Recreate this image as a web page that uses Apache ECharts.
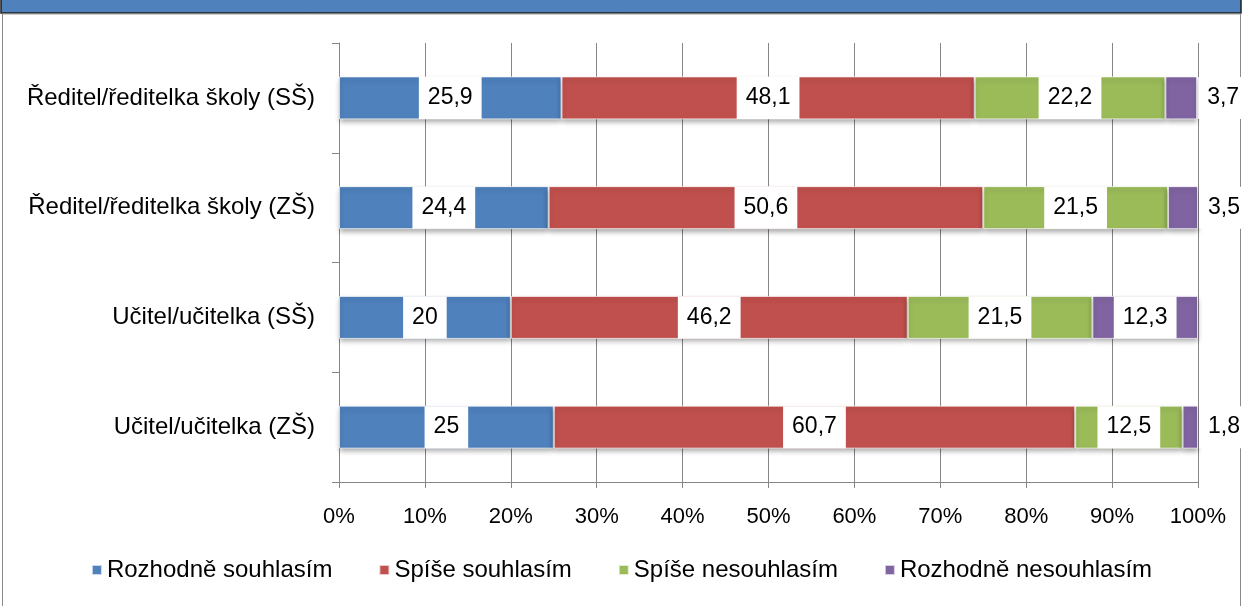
<!DOCTYPE html>
<html>
<head>
<meta charset="utf-8">
<script src="https://cdn.jsdelivr.net/npm/echarts@6/dist/echarts.min.js"></script>
<style>
  html, body { margin: 0; padding: 0; background: #fff; }
  #chart { width: 1243px; height: 606px; }
</style>
</head>
<body>
<div id="chart"></div>
<script>
// categories from bottom to top
let categories = ['Učitel/učitelka (ZŠ)', 'Učitel/učitelka (SŠ)', 'Ředitel/ředitelka školy (ZŠ)', 'Ředitel/ředitelka školy (SŠ)'];
let seriesNames = ['Rozhodně souhlasím', 'Spíše souhlasím', 'Spíše nesouhlasím', 'Rozhodně nesouhlasím'];
let rozhodneSouhlasim = [25, 20, 24.4, 25.9];
let spiseSouhlasim = [60.7, 46.2, 50.6, 48.1];
let spiseNesouhlasim = [12.5, 21.5, 21.5, 22.2];
let rozhodneNesouhlasim = [1.8, 12.3, 3.5, 3.7];
let xTicks = ['0%', '10%', '20%', '30%', '40%', '50%', '60%', '70%', '80%', '90%', '100%'];

let colors = ['#4F81BD', '#C0504D', '#9BBB59', '#8064A2'];
let font = '"Liberation Sans", sans-serif';

window.addEventListener('load', function () {
    let chart = echarts.init(document.getElementById('chart'));

    let label = {
        show: true,
        position: 'inside',
        color: '#000',
        fontSize: 23,
        fontFamily: font,
        backgroundColor: '#fff',
        padding: [10, 9, 9, 9],
        formatter: function (p) { return String(p.value).replace('.', ','); }
    };

    function makeSeries(idx, values) {
        return {
            name: seriesNames[idx],
            type: 'bar',
            stack: 'total',
            barWidth: 43,
            itemStyle: {
                color: colors[idx],
                borderColor: 'rgba(255,255,255,0.7)',
                borderWidth: 1,
                shadowColor: 'rgba(0,0,0,0.35)',
                shadowBlur: 5,
                shadowOffsetY: 3
            },
            label: label,
            data: values.map(function (v) {
                // small segments get their label outside to the right
                if (v < 5) {
                    return { value: v, label: { position: 'right', distance: 1 } };
                }
                return v;
            })
        };
    }

    let option = {
        animation: false,
        color: colors,
        grid: { left: 339, right: 45, top: 43, bottom: 124 },
        legend: {
            bottom: 19,
            left: 'center',
            itemWidth: 10,
            itemHeight: 10,
            itemGap: 46,
            icon: 'rect',
            textStyle: { fontSize: 24, fontFamily: font, color: '#000' },
            data: seriesNames
        },
        graphic: [
            { type: 'rect', shape: { x: 1, y: -2, width: 1240, height: 15 },
              style: { fill: '#4F81BD', stroke: '#1f1f1f', lineWidth: 1.5 } },
            { type: 'line', shape: { x1: 2, y1: 14, x2: 1241, y2: 14 },
              style: { stroke: '#a0a0a0', lineWidth: 1 } },
            { type: 'line', shape: { x1: 2.5, y1: 14, x2: 2.5, y2: 606 },
              style: { stroke: '#8a8a8a', lineWidth: 1 } },
            { type: 'line', shape: { x1: 1240.5, y1: 14, x2: 1240.5, y2: 606 },
              style: { stroke: '#8a8a8a', lineWidth: 1 } }
        ],
        xAxis: {
            type: 'value',
            min: 0,
            max: 100,
            interval: 10,
            axisLine: { show: true, lineStyle: { color: '#868686' } },
            axisTick: { show: true, length: 6, lineStyle: { color: '#868686' } },
            splitLine: { show: true, lineStyle: { color: '#868686' } },
            axisLabel: {
                fontSize: 22, fontFamily: font, color: '#000', margin: 24,
                formatter: function (v) { return xTicks[Math.round(v / 10)]; }
            }
        },
        yAxis: {
            type: 'category',
            data: categories,
            axisLine: { show: true, lineStyle: { color: '#868686' } },
            axisTick: { show: true, length: 7, lineStyle: { color: '#868686' } },
            axisLabel: { fontSize: 24, fontFamily: font, color: '#000', margin: 24 }
        },
        series: [
            makeSeries(0, rozhodneSouhlasim),
            makeSeries(1, spiseSouhlasim),
            makeSeries(2, spiseNesouhlasim),
            makeSeries(3, rozhodneNesouhlasim)
        ]
    };
    chart.setOption(option);
}, false);
</script>
</body>
</html>
